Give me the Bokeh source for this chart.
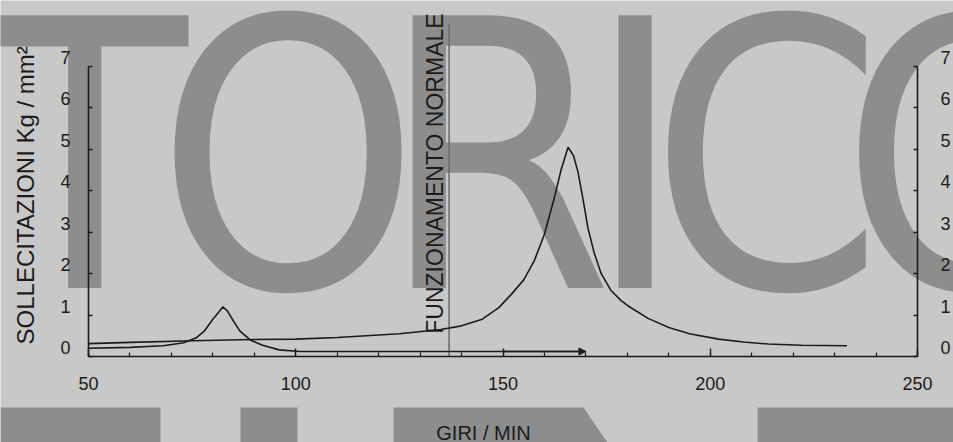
import math
from bokeh.plotting import figure
from bokeh.models import Range1d, LinearAxis, FixedTicker, Arrow, NormalHead
from bokeh.embed import file_html
from bokeh.resources import INLINE
from bokeh.core.properties import value

# ---------------- data ----------------
rpm_main = [50, 60, 75, 90, 100, 110, 125, 135, 140, 145, 149, 152, 155, 157.5,
            160, 162.3, 164, 165.7, 167, 168.1, 169.3, 170.5, 172, 173.7, 176,
            178.5, 180.2, 185, 190, 195, 202, 208, 214, 222, 233]
stress_main = [0.31, 0.34, 0.38, 0.41, 0.42, 0.46, 0.55, 0.65, 0.74, 0.9, 1.18,
               1.5, 1.85, 2.3, 2.95, 3.8, 4.5, 5.05, 4.85, 4.45, 3.8, 3.1, 2.5,
               2.0, 1.6, 1.35, 1.22, 0.92, 0.7, 0.55, 0.42, 0.35, 0.3, 0.27, 0.26]

rpm_low = [50, 60, 68, 73, 76, 78, 80, 81.5, 82.4, 83.5, 85, 86.5, 89, 92, 96,
           101, 110, 130, 150, 170]
stress_low = [0.2, 0.22, 0.26, 0.33, 0.45, 0.62, 0.9, 1.08, 1.2, 1.1, 0.85, 0.62,
              0.4, 0.27, 0.16, 0.12, 0.12, 0.12, 0.12, 0.12]

normal_rpm = 137          # "funzionamento normale" marker
normal_top = 8.04

x_ticks = [50, 100, 150, 200, 250]
x_minor = list(range(50, 251, 10))
y_ticks = [0, 1, 2, 3, 4, 5, 6, 7]

x_title = "GIRI / MIN"
y_title = "SOLLECITAZIONI  Kg / mm\u00b2"
normal_label = "FUNZIONAMENTO NORMALE"
watermark_top = ["T", "O", "R", "I", "C", "O"]

# ---------------- layout / style ----------------
W, H = 953, 442
BG = "#c8c8c8"
WM = "#8d8d8d"
INK = "#1b1b1b"
FONT = "Liberation Sans"
WM_FONT = "DejaVu Sans Condensed"

X_LEFT_PX, X_RIGHT_PX = 88, 917
Y_ZERO_PX, Y_TOP_PX = 356, 66
sx = (X_RIGHT_PX - X_LEFT_PX) / (x_ticks[-1] - x_ticks[0])
sy = (Y_ZERO_PX - Y_TOP_PX) / (y_ticks[-1] - y_ticks[0])
x0 = x_ticks[0] - X_LEFT_PX / sx
x1 = x0 + W / sx
y1 = y_ticks[-1] + Y_TOP_PX / sy
y0 = y1 - H / sy
lab_shift = 9 / sy   # tick labels sit a little above their ticks in the scan

p = figure(width=W, height=H, x_range=Range1d(x0, x1), y_range=Range1d(y0, y1),
           x_axis_type=None, y_axis_type=None, toolbar_location=None,
           output_backend="svg", min_border=0)
p.extra_x_ranges = {"px": Range1d(0, W)}
p.extra_y_ranges = {"px": Range1d(H, 0), "lab": Range1d(y0 - lab_shift, y1 - lab_shift)}
p.background_fill_color = BG
p.border_fill_color = BG
p.outline_line_color = None

# ---- background watermark (large grey lettering of the scanned page) ----
wm_x = [84, 287.5, 496, 634.5, 766, 972]
p.text(x=wm_x, y=[158] * len(wm_x), text=watermark_top,
       x_range_name="px", y_range_name="px",
       text_font=value(WM_FONT), text_font_size="374px",
       text_align="center", text_baseline="middle", text_color=WM)
# tops of the next (cut-off) row of lettering
p.patches(xs=[[0, 160, 160, 0], [240, 297, 297, 240], [393, 583, 607, 393], [757, 953, 953, 757]],
          ys=[[407, 407, 442, 442]] * 4,
          x_range_name="px", y_range_name="px", fill_color=WM, line_color=None)

# ---- normal operating speed marker ----
p.segment(x0=[normal_rpm], y0=[0], x1=[normal_rpm], y1=[normal_top],
          line_color="#6c6c6c", line_width=1.6)
p.text(x=[normal_rpm], y=[0.55], text=[normal_label], angle=math.pi / 2,
       x_offset=-14, text_align="left", text_baseline="middle",
       text_font=value(FONT), text_font_size="23px", text_color=INK)

# ---- curves ----
p.line(rpm_low, stress_low, line_color=INK, line_width=1.6)
p.line(rpm_main, stress_main, line_color=INK, line_width=1.6)
p.add_layout(Arrow(end=NormalHead(size=7, fill_color=INK, line_color=INK),
                   x_start=rpm_low[-2], y_start=stress_low[-2],
                   x_end=rpm_low[-1], y_end=stress_low[-1],
                   line_color=INK, line_width=1.6))

# ---- axes ----
def style_labels(ax, size):
    ax.major_label_text_font = FONT
    ax.major_label_text_font_size = size
    ax.major_label_text_color = INK

xa = LinearAxis(fixed_location=0, bounds=(x_ticks[0], x_ticks[-1]),
                ticker=FixedTicker(ticks=x_ticks, minor_ticks=x_minor),
                major_tick_in=8, major_tick_out=0, minor_tick_in=4, minor_tick_out=0,
                axis_line_color=INK, axis_line_width=1.6,
                major_tick_line_color=INK, major_tick_line_width=1.4,
                minor_tick_line_color=INK, minor_tick_line_width=1.2,
                major_label_standoff=20)
style_labels(xa, "18px")
p.add_layout(xa, "below")

for loc, side in ((x_ticks[0], "left"), (x_ticks[-1], "right")):
    ticks_ax = LinearAxis(fixed_location=loc, bounds=(y_ticks[0], y_ticks[-1]),
                          ticker=FixedTicker(ticks=y_ticks), major_tick_in=4, major_tick_out=0,
                          axis_line_color=INK, axis_line_width=1.6,
                          major_tick_line_color=INK, major_tick_line_width=1.4,
                          minor_tick_line_color=None, major_label_text_color=None)
    p.add_layout(ticks_ax, side)
    lab_ax = LinearAxis(y_range_name="lab", fixed_location=loc,
                        bounds=(y_ticks[0], y_ticks[-1] + (0.5 if side == "left" else 0)),
                        ticker=FixedTicker(ticks=y_ticks), axis_line_color=None,
                        major_tick_line_color=None, minor_tick_line_color=None,
                        major_tick_in=0, major_tick_out=0,
                        major_label_standoff=18 if side == "left" else 23)
    style_labels(lab_ax, "18px")
    if side == "left":
        lab_ax.axis_label = y_title
        lab_ax.axis_label_text_font = FONT
        lab_ax.axis_label_text_font_size = "24px"
        lab_ax.axis_label_text_font_style = "normal"
        lab_ax.axis_label_text_color = INK
        lab_ax.axis_label_standoff = 18
    p.add_layout(lab_ax, side)

# x-axis title (sits left of centre in the original)
p.text(x=[483], y=[432], text=[x_title], x_range_name="px", y_range_name="px",
       text_font=value(FONT), text_font_size="20px", text_align="center",
       text_baseline="middle", text_color=INK)

open("out.html", "w").write(file_html(p, INLINE))
